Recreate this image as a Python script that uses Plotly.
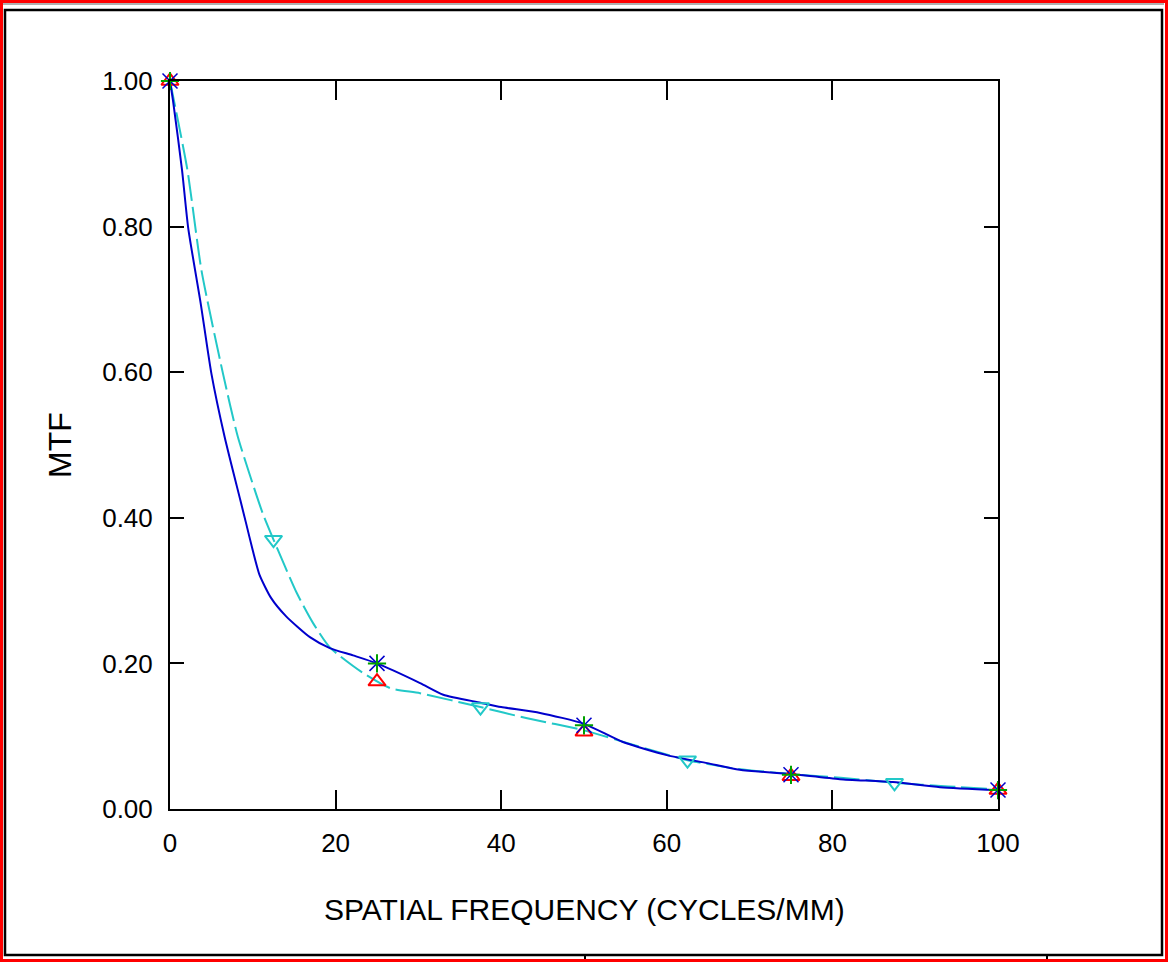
import plotly.graph_objects as go

# ---- data ----
blue_x = [0, 0.4, 1.45, 2.2, 3.7, 5.0, 6.6, 8.5, 9.2, 10.0, 10.8, 12.2, 14.0, 16.9, 19.3, 22.1,
          25, 30.2, 33, 37.5, 40, 44.7, 50, 54.7, 60, 64.9, 68.8, 75, 80.9, 87.3, 93, 100]
blue_y = [1.0, 0.97, 0.878, 0.798, 0.695, 0.598, 0.511, 0.424, 0.392, 0.355, 0.322, 0.29, 0.265, 0.236, 0.221, 0.211,
          0.20, 0.173, 0.157, 0.146, 0.14, 0.132, 0.117, 0.092, 0.074, 0.063, 0.054, 0.048, 0.041, 0.037, 0.030, 0.026]

cyan_x = [0, 2.1, 3.8, 6.4, 8.2, 11.2, 12.5, 15.3, 17.3, 19.3, 23.3, 26.6, 30.2, 37.5, 43, 50,
          56, 62.5, 68, 75, 81, 87.5, 94, 100]
cyan_y = [1.0, 0.878, 0.74, 0.598, 0.511, 0.406, 0.37, 0.297, 0.255, 0.222, 0.187, 0.166, 0.159, 0.14, 0.125, 0.108,
          0.088, 0.067, 0.056, 0.048, 0.043, 0.036, 0.031, 0.027]

star_x = [0, 25, 50, 75, 100]
star_y = [1.0, 0.20, 0.115, 0.047, 0.026]

red_x = [0, 25, 50, 75, 100]
red_y = [1.0, 0.175, 0.106, 0.045, 0.026]

cyan_mk_x = [12.5, 37.5, 62.5, 87.5]
cyan_mk_y = [0.37, 0.14, 0.067, 0.036]

x_ticks = [0, 20, 40, 60, 80, 100]
y_ticks = [0.0, 0.2, 0.4, 0.6, 0.8, 1.0]

x_title = "SPATIAL FREQUENCY (CYCLES/MM)"
y_title = "MTF"

# ---- layout geometry ----
W, H = 1168, 962
L, R, T, B = 170, 998, 81, 809
FONT = "Liberation Sans, Arial, sans-serif"

BLUE = "#0000CC"
CYAN = "#22C8C8"
RED = "#FF0000"
GREEN = "#00A000"

fig = go.Figure()

fig.add_trace(go.Scatter(x=cyan_x, y=cyan_y, mode="lines",
                         line=dict(color=CYAN, width=2, dash="26px,6px", shape="spline", smoothing=0.6),
                         hoverinfo="skip", showlegend=False))
fig.add_trace(go.Scatter(x=blue_x, y=blue_y, mode="lines",
                         line=dict(color=BLUE, width=2, shape="spline", smoothing=0.6),
                         hoverinfo="skip", showlegend=False))
fig.add_trace(go.Scatter(x=cyan_mk_x, y=cyan_mk_y, mode="markers", cliponaxis=False,
                         marker=dict(symbol="triangle-down-open", size=15, color=CYAN,
                                     line=dict(color=CYAN, width=2)),
                         showlegend=False))
fig.add_trace(go.Scatter(x=red_x, y=red_y, mode="markers", cliponaxis=False,
                         marker=dict(symbol="triangle-up-open", size=15, color=RED,
                                     line=dict(color=RED, width=2)),
                         showlegend=False))
fig.add_trace(go.Scatter(x=star_x, y=star_y, mode="markers", cliponaxis=False,
                         marker=dict(symbol="x-thin-open", size=15, color=BLUE,
                                     line=dict(color=BLUE, width=1.5)),
                         showlegend=False))
fig.add_trace(go.Scatter(x=star_x, y=star_y, mode="markers", cliponaxis=False,
                         marker=dict(symbol="cross-thin-open", size=13, color=GREEN,
                                     line=dict(color=GREEN, width=2)),
                         showlegend=False))


def px2paper(px, py):
    return (px - L) / (R - L), 1 - (py - T) / (B - T)


shapes = []


def rect(x0, y0, x1, y1, color, width):
    a, b = px2paper(x0, y0)
    c, d = px2paper(x1, y1)
    shapes.append(dict(type="rect", xref="paper", yref="paper", x0=a, y0=d, x1=c, y1=b,
                       line=dict(color=color, width=width), fillcolor="rgba(0,0,0,0)", layer="below"))


def seg(x0, y0, x1, y1, color, width):
    a, b = px2paper(x0, y0)
    c, d = px2paper(x1, y1)
    shapes.append(dict(type="line", xref="paper", yref="paper", x0=a, y0=b, x1=c, y1=d,
                       line=dict(color=color, width=width), layer="below"))


rect(1.5, 1.5, W - 1.5, H - 1.5, RED, 3)
seg(3, 4, W - 4, 4, "#B0B0B0", 2)
rect(5, 10, 1162, 955, "black", 2.5)
seg(585, 955, 585, 959, "black", 2)
seg(1047, 955, 1047, 959, "black", 2)

fig.update_layout(
    width=W, height=H,
    margin=dict(l=L, r=W - R, t=T, b=H - B, pad=0),
    paper_bgcolor="white", plot_bgcolor="white",
    font=dict(family=FONT, color="black", size=26),
    shapes=shapes,
    showlegend=False,
    annotations=[
        dict(text=x_title, xref="paper", yref="paper", x=0.5, y=px2paper(0, 909)[1],
             showarrow=False, font=dict(family=FONT, size=30, color="black"),
             xanchor="center", yanchor="middle"),
        dict(text=y_title, xref="paper", yref="paper", x=px2paper(60, 0)[0], y=0.5,
             showarrow=False, textangle=-90, font=dict(family=FONT, size=32, color="black"),
             xanchor="center", yanchor="middle"),
    ],
)

fig.update_xaxes(range=[0, 100], tickvals=x_ticks, ticktext=[str(v) for v in x_ticks],
                 ticks="inside", ticklen=19, tickwidth=2, tickcolor="black",
                 showline=True, linewidth=2, linecolor="black", mirror="ticks",
                 showgrid=False, zeroline=False, ticklabelstandoff=10,
                 tickfont=dict(family=FONT, size=26, color="black"))
fig.update_yaxes(range=[0, 1], tickvals=y_ticks, ticktext=["%.2f" % v for v in y_ticks],
                 ticks="inside", ticklen=14, tickwidth=2, tickcolor="black",
                 showline=True, linewidth=2, linecolor="black", mirror="ticks",
                 showgrid=False, zeroline=False, ticklabelstandoff=10,
                 tickfont=dict(family=FONT, size=26, color="black"))

fig.write_html("out.html")
